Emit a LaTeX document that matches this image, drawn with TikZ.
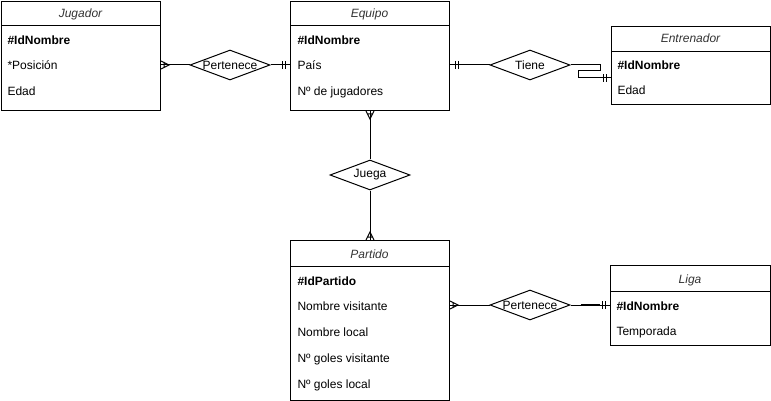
\documentclass[tikz,border=0pt]{standalone}
\usepackage{fontspec}
\setmainfont{Liberation Sans}
\usetikzlibrary{shapes.geometric}
\definecolor{gristitulo}{HTML}{333333}
\tikzset{
  entidad/.style={draw, anchor=north west, inner sep=0pt, minimum width=159pt},
  titulo/.style={anchor=base, font=\fontsize{12}{14}\selectfont\itshape, text=gristitulo, inner sep=0pt},
  atributo/.style={anchor=base west, font=\fontsize{12}{14}\selectfont, inner sep=0pt},
  clave/.style={atributo, font=\fontsize{12}{14}\selectfont\bfseries},
  relacion/.style={draw, diamond, inner sep=0pt, minimum width=80pt, minimum height=30pt, fill=white},
  uno/.pic={\draw (5,-4) -- (5,4) (8,-4) -- (8,4);},
  muchos/.pic={\draw (0,-4) -- (8,0) -- (0,4) (3,-3) -- (3,3);}
}
\begin{document}
\begin{tikzpicture}[x=1pt, y=-1pt, line width=1pt, font=\fontsize{12}{14}\selectfont]
\useasboundingbox (0,0) rectangle (771,401);
% entidades
\node[entidad, minimum height=109pt] (J) at (1,1) {};
\node[entidad, minimum height=109pt] (E) at (290,1) {};
\node[entidad, minimum height=78pt] (En) at (611,26) {};
\node[entidad, minimum height=160pt] (P) at (290,240) {};
\node[entidad, minimum width=160pt, minimum height=80pt] (L) at (610,265) {};
\draw ([yshift=-25pt]J.north west) -- ([yshift=-25pt]J.north east);
\draw ([yshift=-25pt]E.north west) -- ([yshift=-25pt]E.north east);
\draw ([yshift=-26pt]En.north west) -- ([yshift=-26pt]En.north east);
\draw ([yshift=-26pt]P.north west) -- ([yshift=-26pt]P.north east);
\draw ([yshift=-26pt]L.north west) -- ([yshift=-26pt]L.north east);
% textos
\node[titulo] (Jt) at (80.5,18) {Jugador};
\node[clave] (Ja) at (7,45) {\#IdNombre};
\node[atributo] (Jb) at (7,70) {*Posición};
\node[atributo] (Jc) at (7,96) {Edad};
\node[titulo] (Et) at (369.5,18) {Equipo};
\node[clave] (Ea) at (297,45) {\#IdNombre};
\node[atributo] (Eb) at (297,70) {País};
\node[atributo] (Ec) at (297,96) {Nº de jugadores};
\node[titulo] (Ent) at (690.5,43) {Entrenador};
\node[clave] (Ena) at (617,70) {\#IdNombre};
\node[atributo] (Enb) at (617,95) {Edad};
\node[titulo] (Pt) at (369.5,258) {Partido};
\node[clave] (Pa) at (297,285) {\#IdPartido};
\node[atributo] (Pb) at (297,310) {Nombre visitante};
\node[atributo] (Pc) at (297,336) {Nombre local};
\node[atributo] (Pd) at (297,362) {Nº goles visitante};
\node[atributo] (Pe) at (297,388) {Nº goles local};
\node[titulo] (Lt) at (690,283) {Liga};
\node[clave] (La) at (616,310) {\#IdNombre};
\node[atributo] (Lb) at (616,335) {Temporada};
% relaciones
\node[relacion, label=center:Pertenece] (R1) at (230,65) {};
\node[relacion, label=center:Tiene] (R2) at (530,65) {};
\node[relacion, label=center:Juega] (R3) at (370,175) {};
\node[relacion, label=center:Pertenece] (R4) at (530,305) {};
\coordinate (c1) at (600,71);
\coordinate (c2) at (578,78);
\draw (J.east |- R1) -- (R1.west);
\draw (R1.east) -- (E.west |- R1);
\draw (E.east |- R2) -- (R2.west);
\draw (R2.east) -| (c1) -| (c2) -- (En.west |- c2);
\draw (E.south -| R3) -- (R3.north);
\draw (R3.south) -- (P.north -| R3);
\draw (P.east |- R4) -- (R4.west);
\draw (R4.east) -- (L.west |- R4);
\draw[line width=2pt] ([xshift=10pt]R4.east) -- ([xshift=-10pt]L.west |- R4);
% cardinalidades
\pic at (J.east |- R1) {muchos};
\pic[rotate=180] at (E.west |- R1) {uno};
\pic at (E.east |- R2) {uno};
\pic[rotate=180] at (En.west |- c2) {uno};
\pic[rotate=-90] at (E.south -| R3) {muchos};
\pic[rotate=90] at (P.north -| R3) {muchos};
\pic at (P.east |- R4) {muchos};
\pic[rotate=180] at (L.west |- R4) {uno};
\end{tikzpicture}
\end{document}
